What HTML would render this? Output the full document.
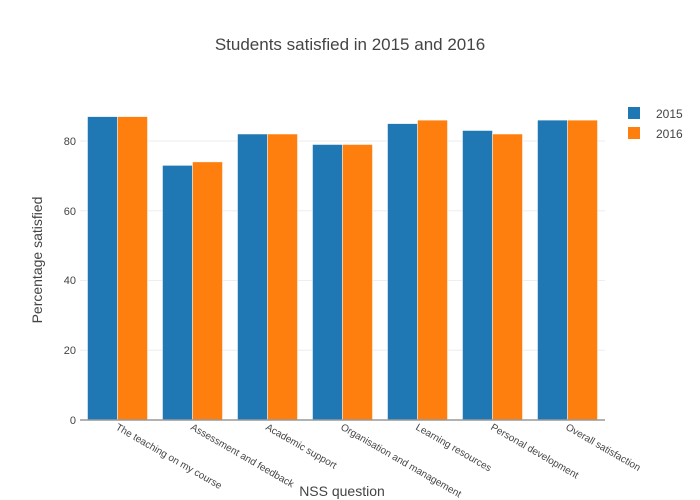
<!DOCTYPE html>
<html><head><meta charset="utf-8"><style>body{margin:0;background:#fff}svg{display:block;font-family:"Liberation Sans","DejaVu Sans",sans-serif}</style></head>
<body>
<svg width="700" height="500" viewBox="0 0 700 500">
<rect width="700" height="500" fill="#fff"/>
<text x="350" y="50" text-anchor="middle" font-size="17" fill="#444">Students satisfied in 2015 and 2016</text>
<g stroke="#eee" stroke-width="1">
<line x1="80" x2="605" y1="350.25" y2="350.25"/>
<line x1="80" x2="605" y1="280.5" y2="280.5"/>
<line x1="80" x2="605" y1="210.75" y2="210.75"/>
<line x1="80" x2="605" y1="141" y2="141"/>
</g>
<g font-size="11" fill="#444" text-anchor="end">
<text x="76" y="424">0</text>
<text x="76" y="354">20</text>
<text x="76" y="284">40</text>
<text x="76" y="215">60</text>
<text x="76" y="145">80</text>
</g>
<g stroke="#fff" stroke-width="0.5">
<rect x="87.5" y="116.6" width="30" height="303.4" fill="#1f77b4"/>
<rect x="117.5" y="116.6" width="30" height="303.4" fill="#ff7f0e"/>
<rect x="162.5" y="165.4" width="30" height="254.6" fill="#1f77b4"/>
<rect x="192.5" y="161.9" width="30" height="258.1" fill="#ff7f0e"/>
<rect x="237.5" y="134" width="30" height="286" fill="#1f77b4"/>
<rect x="267.5" y="134" width="30" height="286" fill="#ff7f0e"/>
<rect x="312.5" y="144.5" width="30" height="275.5" fill="#1f77b4"/>
<rect x="342.5" y="144.5" width="30" height="275.5" fill="#ff7f0e"/>
<rect x="387.5" y="123.6" width="30" height="296.4" fill="#1f77b4"/>
<rect x="417.5" y="120.1" width="30" height="299.9" fill="#ff7f0e"/>
<rect x="462.5" y="130.5" width="30" height="289.5" fill="#1f77b4"/>
<rect x="492.5" y="134" width="30" height="286" fill="#ff7f0e"/>
<rect x="537.5" y="120.1" width="30" height="299.9" fill="#1f77b4"/>
<rect x="567.5" y="120.1" width="30" height="299.9" fill="#ff7f0e"/>
</g>
<line x1="80" x2="605" y1="420" y2="420" stroke="#999" stroke-width="1.5"/>
<g font-size="10" fill="#444">
<text transform="translate(115,429) rotate(30)">The teaching on my course</text>
<text transform="translate(190,429) rotate(30)">Assessment and feedback</text>
<text transform="translate(265,429) rotate(30)">Academic support</text>
<text transform="translate(340,429) rotate(30)">Organisation and management</text>
<text transform="translate(415,429) rotate(30)">Learning resources</text>
<text transform="translate(490,429) rotate(30)">Personal development</text>
<text transform="translate(565,429) rotate(30)">Overall satisfaction</text>
</g>
<text x="342" y="496" text-anchor="middle" font-size="14" fill="#444">NSS question</text>
<text transform="translate(42,260) rotate(-90)" text-anchor="middle" font-size="14" fill="#444">Percentage satisfied</text>
<rect x="628" y="107" width="12" height="12" fill="#1f77b4"/>
<text x="656" y="118" font-size="12" fill="#444">2015</text>
<rect x="628" y="127" width="12" height="12" fill="#ff7f0e"/>
<text x="656" y="138" font-size="12" fill="#444">2016</text>
</svg>
</body></html>
